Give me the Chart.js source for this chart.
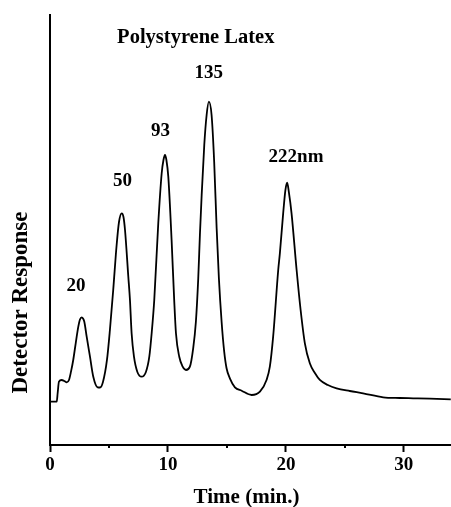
<!DOCTYPE html>
<html>
<head>
<meta charset="utf-8">
<script src="https://cdn.jsdelivr.net/npm/chart.js@4"></script>
<style>
html,body{margin:0;padding:0;background:#fff;}
canvas{display:block;}
</style>
</head>
<body>
<canvas id="c" width="451" height="507"></canvas>
<script>
// Elution time (min.)
const timeMin = [0,0.57,0.65,0.76,0.99,1.21,1.42,1.61,1.78,1.97,2.18,2.40,2.54,2.69,2.80,2.91,3.11,3.39,3.67,4.04,4.24,4.49,4.83,5.08,5.36,5.65,5.85,6.08,6.23,6.36,6.64,6.78,6.92,7.12,7.40,7.77,8.14,8.42,8.62,8.84,9.18,9.47,9.62,9.75,9.87,10.03,10.31,10.53,10.68,10.96,11.25,11.53,11.86,12.14,12.37,12.57,12.71,12.86,13.08,13.28,13.47,13.70,13.92,14.13,14.32,14.55,14.77,14.97,15.25,15.68,16.25,17.09,17.80,18.36,18.64,18.92,19.35,19.49,19.77,19.96,20.11,20.25,20.48,20.91,21.25,21.61,22.03,22.46,22.88,23.56,24.30,25.42,26.55,28.25,29.66,30.79,32.20,33.98];
// Detector response (arbitrary units)
const response = [10.07,10.07,12.09,14.72,15.12,14.88,14.58,15.12,17.05,19.77,23.65,27.51,29.19,29.70,29.42,28.67,25.19,20.53,15.88,13.42,13.37,14.65,19.77,26.74,36.05,46.51,51.86,53.88,53.02,50.0,39.14,33.72,25.98,20.53,17.05,15.88,17.05,20.53,25.98,33.72,51.56,63.19,66.28,67.44,66.28,62.40,47.67,33.72,25.98,20.53,18.21,17.44,18.21,22.49,28.67,38.77,48.84,58.14,69.77,76.74,79.84,76.74,65.88,50.40,38.77,28.67,21.70,17.84,15.51,13.42,12.63,11.63,12.40,15.12,18.21,25.19,40.70,44.58,53.88,59.30,61.0,58.84,53.88,40.70,31.40,23.65,19.0,16.74,15.12,13.95,13.19,12.56,12.02,11.09,10.93,10.86,10.77,10.63];
// Axis tick values
const xTicks = [0,10,20,30];
const xMinorTicks = [5,15,25];
// Texts
const chartTitle = 'Polystyrene Latex';
const peakLabels = ['20','50','93','135','222nm'];
const xTitle = 'Time (min.)';
const yTitle = 'Detector Response';

const FONT = '"Liberation Serif", "Times New Roman", serif';

const points = timeMin.map((t,i)=>({x:t,y:response[i]}));

// label anchors in data units (x: min, y: response)
const labelAnchors = [[2.20,37.0],[6.14,61.3],[9.36,73.1],[13.46,86.5],[20.86,66.9]];
const titleAnchor = [12.36,94.7];

const textPlugin = {
  id:'texts',
  afterDraw(chart){
    const {ctx, chartArea, scales:{x,y}} = chart;
    ctx.save();
    ctx.fillStyle = '#000';
    ctx.textAlign = 'center';
    ctx.textBaseline = 'middle';
    ctx.font = 'bold 19px ' + FONT;
    peakLabels.forEach((s,i)=>{
      ctx.fillText(s, x.getPixelForValue(labelAnchors[i][0]), y.getPixelForValue(labelAnchors[i][1]));
    });
    ctx.font = 'bold 20.5px ' + FONT;
    ctx.fillText(chartTitle, x.getPixelForValue(titleAnchor[0]), y.getPixelForValue(titleAnchor[1]));
    // minor ticks
    ctx.strokeStyle = '#000';
    ctx.lineWidth = 2;
    xMinorTicks.forEach(v=>{
      const px = Math.round(x.getPixelForValue(v));
      ctx.beginPath();
      ctx.moveTo(px, chartArea.bottom);
      ctx.lineTo(px, chartArea.bottom+3);
      ctx.stroke();
    });
    // axis titles
    ctx.font = 'bold 21px ' + FONT;
    ctx.fillText(xTitle, (chartArea.left+chartArea.right)/2 - 4, chartArea.bottom + 53);
    ctx.save();
    ctx.translate(chartArea.left - 28.5, chartArea.bottom - 142.5);
    ctx.rotate(-Math.PI/2);
    ctx.font = 'bold 23px ' + FONT;
    ctx.fillText(yTitle, 0, 0);
    ctx.restore();
    ctx.restore();
  }
};

new Chart(document.getElementById('c'), {
  type:'line',
  data:{datasets:[{
    data: points,
    borderColor:'#000',
    borderWidth:1.8,
    pointRadius:0,
    fill:false,
    cubicInterpolationMode:'monotone'
  }]},
  options:{
    responsive:false,
    animation:false,
    devicePixelRatio:1,
    layout:{padding:{top:15,right:0,bottom:0,left:0}},
    plugins:{legend:{display:false},tooltip:{enabled:false}},
    scales:{
      x:{
        type:'linear', min:0, max:34,
        afterBuildTicks(scale){ scale.ticks = xTicks.map(v=>({value:v})); },
        afterFit(scale){ scale.height = 62; },
        grid:{drawOnChartArea:false, drawTicks:true, tickLength:7, tickColor:'#000', tickWidth:2},
        border:{display:true,color:'#000',width:2},
        ticks:{color:'#000', padding:2, maxRotation:0, autoSkip:false, font:{family:FONT, size:19, weight:'bold'}}
      },
      y:{
        type:'linear', min:0, max:100,
        afterFit(scale){ scale.width = 50; },
        grid:{display:false},
        border:{display:true,color:'#000',width:2},
        ticks:{display:false}
      }
    }
  },
  plugins:[textPlugin]
});
</script>
</body>
</html>
